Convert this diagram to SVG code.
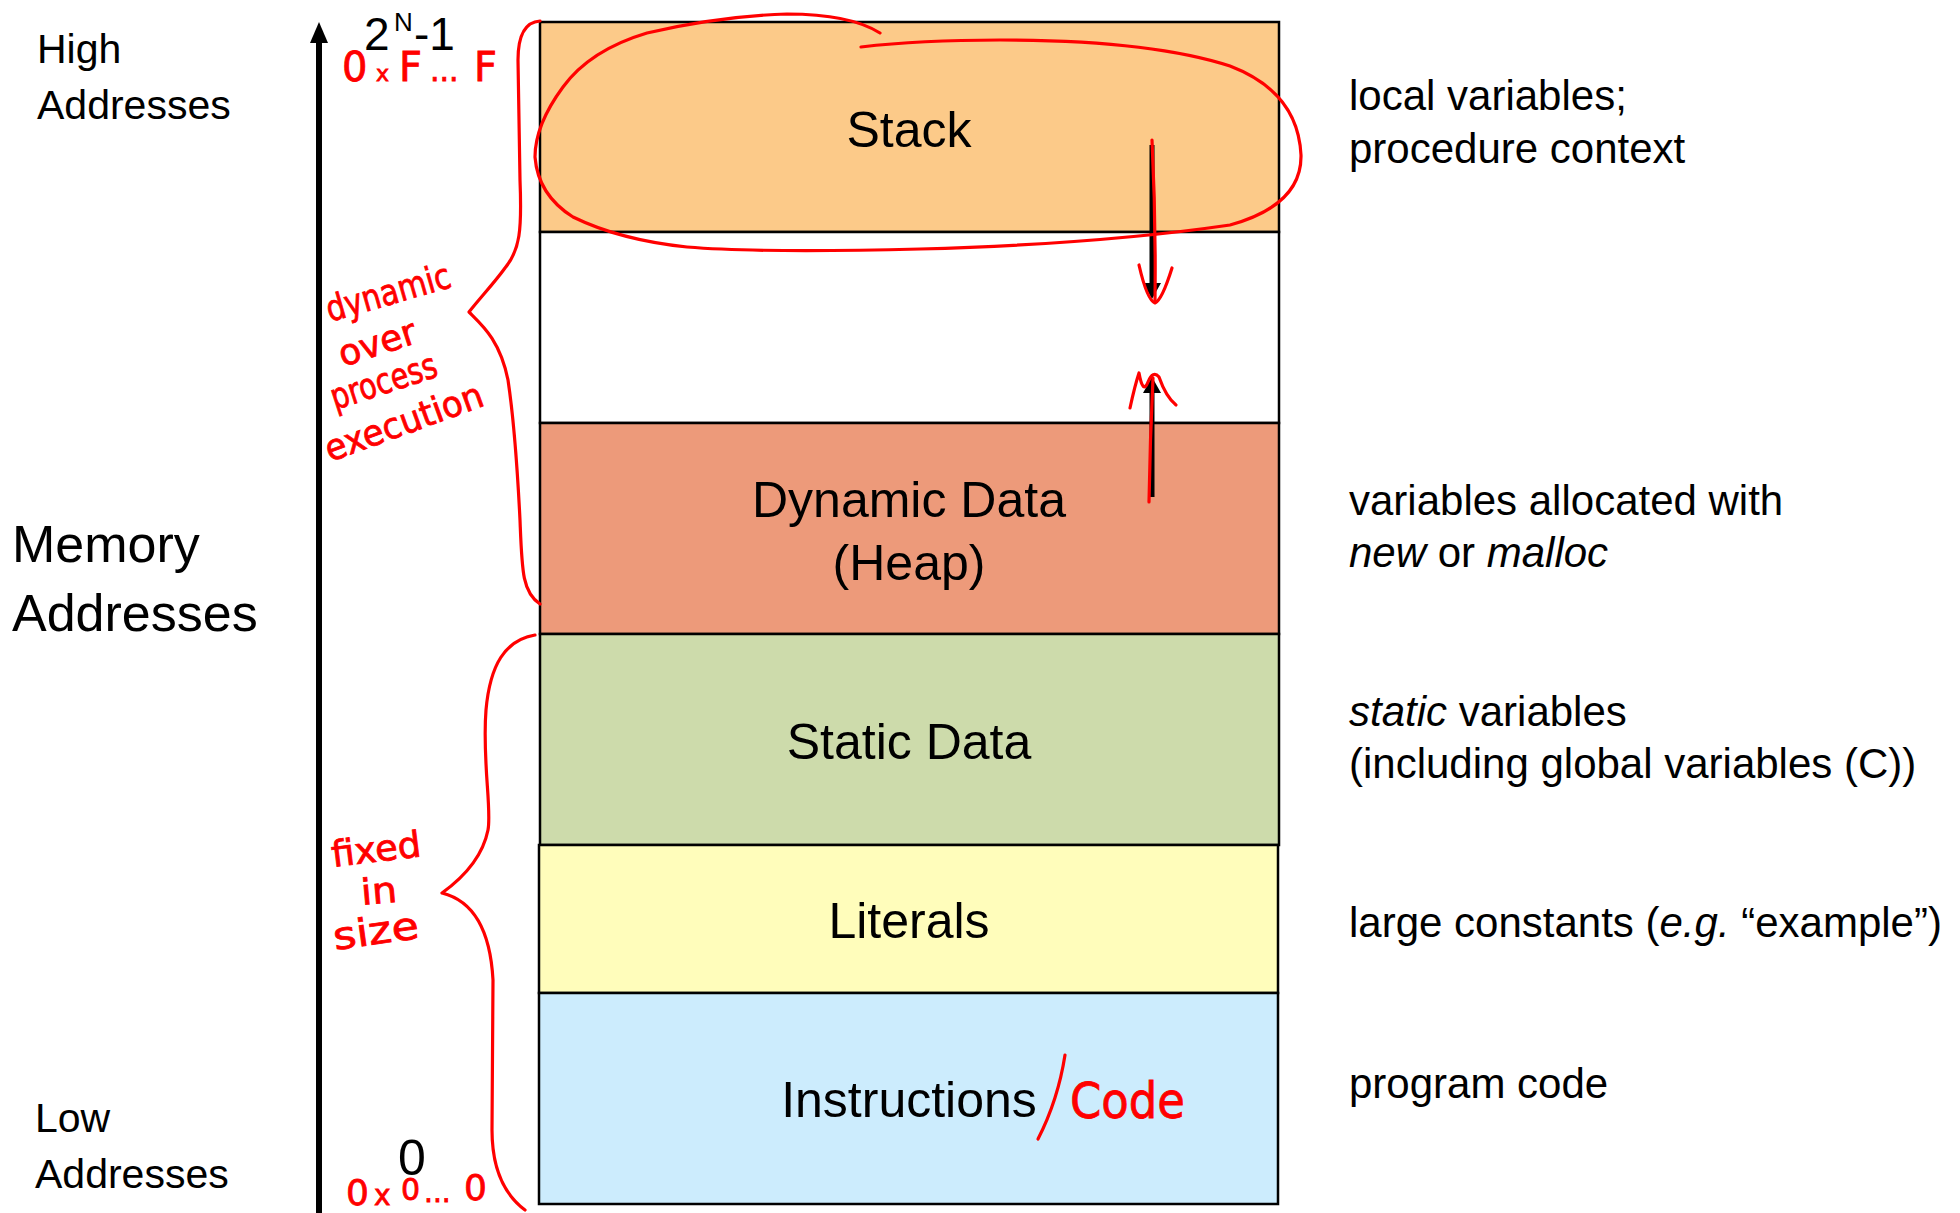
<svg xmlns="http://www.w3.org/2000/svg" width="1960" height="1213" viewBox="0 0 1960 1213">
<style>
.box{stroke:#000;stroke-width:2.5}
.lbl{font-family:"Liberation Sans",Arial,sans-serif;font-size:50px;fill:#000;text-anchor:middle}
.side{font-family:"Liberation Sans",Arial,sans-serif;font-size:41px;fill:#000}
.desc{font-family:"Liberation Sans",Arial,sans-serif;font-size:42px;fill:#000}
.num{font-family:"Liberation Sans",Arial,sans-serif;fill:#000}
.hand{font-family:"DejaVu Sans","Liberation Sans",sans-serif;fill:#f00;stroke:#f00;stroke-width:0.8}
.ink{fill:none;stroke:#f00;stroke-width:3.2;stroke-linecap:round;stroke-linejoin:round}
.it{font-style:italic}
</style>
<rect width="1960" height="1213" fill="#fff"/>

<g id="axis">
<line x1="319" y1="40" x2="319" y2="1213" stroke="#000" stroke-width="6"/>
<path d="M319,22 L328,43 L310,43 z" fill="#000"/>
</g>

<g id="side-labels">
<text class="side" x="37" y="63">High</text>
<text class="side" x="37" y="119">Addresses</text>
<text class="side" x="12" y="562" style="font-size:52px">Memory</text>
<text class="side" x="12" y="631" style="font-size:52px">Addresses</text>
<text class="side" x="35" y="1132">Low</text>
<text class="side" x="35" y="1188">Addresses</text>
<text class="num" x="364" y="50" font-size="46">2</text>
<text class="num" x="394" y="31" font-size="26">N</text>
<text class="num" x="414" y="50" font-size="46">-1</text>
<text class="num" x="398" y="1175" font-size="50">0</text>
</g>

<g id="stack">
<rect class="box" x="540" y="22" width="739" height="210" fill="#FCCA89"/>
<text class="lbl" x="909" y="147">Stack</text>
</g>
<g id="free">
<rect class="box" x="540" y="232" width="739" height="191" fill="#fff"/>
</g>
<g id="heap">
<rect class="box" x="540" y="423" width="739" height="211" fill="#ED9A7A"/>
<text class="lbl" x="909" y="517">Dynamic Data</text>
<text class="lbl" x="909" y="580">(Heap)</text>
</g>
<g id="static">
<rect class="box" x="540" y="634" width="739" height="211" fill="#CDDBAB"/>
<text class="lbl" x="909" y="759">Static Data</text>
</g>
<g id="literals">
<rect class="box" x="539" y="845" width="739" height="148" fill="#FFFDBB"/>
<text class="lbl" x="909" y="938">Literals</text>
</g>
<g id="instructions">
<rect class="box" x="539" y="993" width="739" height="211" fill="#CCECFD"/>
<text class="lbl" x="909" y="1117">Instructions</text>
</g>

<g id="connectors">
<line x1="1152" y1="145" x2="1152" y2="284" stroke="#000" stroke-width="5"/>
<path d="M1143,283 L1161,283 L1152,299 z" fill="#000"/>
<line x1="1152" y1="392" x2="1152" y2="497" stroke="#000" stroke-width="5"/>
<path d="M1143,393 L1161,393 L1152,377 z" fill="#000"/>
</g>

<g id="descriptions">
<text class="desc" x="1349" y="110">local variables;</text>
<text class="desc" x="1349" y="163">procedure context</text>
<text class="desc" x="1349" y="515">variables allocated with</text>
<text class="desc" x="1349" y="567" xml:space="preserve"><tspan class="it">new</tspan> or <tspan class="it">malloc</tspan></text>
<text class="desc" x="1349" y="726"><tspan class="it">static</tspan> variables</text>
<text class="desc" x="1349" y="778">(including global variables (C))</text>
<text class="desc" x="1349" y="937">large constants (<tspan class="it">e.g.</tspan> “example”)</text>
<text class="desc" x="1349" y="1098">program code</text>
</g>

<g id="annotations">
<path class="ink" d="M880,33 Q850,14 787,14 Q720,16 647,33 Q590,50 563,87 Q535,125 535,157 Q538,195 573,217 Q620,240 687,247 Q760,253 920,249 Q1100,244 1230,225 Q1302,205 1301,155 Q1298,92 1230,66 Q1150,40 1000,40 Q920,40 861,47"/>
<path class="ink" d="M540,21 C525,22 518,35 518,60 L520,180 C522,230 520,250 505,268 C495,282 480,298 469,312 C482,325 500,340 508,380 C514,420 518,480 520,520 C522,570 522,592 540,604"/>
<path class="ink" d="M535,635 C505,640 490,665 486,710 C482,760 492,810 488,830 C482,860 460,880 442,893 C470,900 490,925 493,980 L492,1130 C492,1170 505,1195 525,1210"/>
<path class="ink" d="M1152,140 Q1156,220 1155,300"/>
<path class="ink" d="M1139,265 Q1147,300 1155,303 Q1162,300 1172,268"/>
<path class="ink" d="M1149,502 Q1150,440 1153,378"/>
<path class="ink" d="M1130,408 Q1135,385 1139,373 Q1143,395 1148,382 Q1153,370 1159,377 Q1166,397 1176,405"/>
<path class="ink" d="M1065,1055 Q1058,1100 1038,1139"/>
<text class="hand" x="1070" y="1118" font-size="50" textLength="115" lengthAdjust="spacingAndGlyphs">Code</text>
<text class="hand" font-size="40"><tspan x="342" y="81">0</tspan><tspan x="376" y="81" font-size="22">x</tspan><tspan x="399" y="81">F</tspan><tspan x="430" y="81" font-size="30">...</tspan><tspan x="474" y="81">F</tspan></text>
<text class="hand" font-size="36"><tspan x="346" y="1205">0</tspan><tspan x="374" y="1205" font-size="28">x</tspan><tspan x="401" y="1200" font-size="30">0</tspan><tspan x="424" y="1202" font-size="28">...</tspan><tspan x="464" y="1200">0</tspan></text>
<text class="hand" font-size="36" transform="translate(330,322) rotate(-16)" textLength="128" lengthAdjust="spacingAndGlyphs">dynamic</text>
<text class="hand" font-size="36" transform="translate(343,367) rotate(-18)" textLength="80" lengthAdjust="spacingAndGlyphs">over</text>
<text class="hand" font-size="36" transform="translate(335,410) rotate(-18)" textLength="110" lengthAdjust="spacingAndGlyphs">process</text>
<text class="hand" font-size="36" transform="translate(330,462) rotate(-20)" textLength="166" lengthAdjust="spacingAndGlyphs">execution</text>
<text class="hand" font-size="36" transform="translate(333,867) rotate(-7)" textLength="90" lengthAdjust="spacingAndGlyphs">fixed</text>
<text class="hand" font-size="36" transform="translate(362,905) rotate(-5)" textLength="36" lengthAdjust="spacingAndGlyphs">in</text>
<text class="hand" font-size="38" transform="translate(335,950) rotate(-8)" textLength="86" lengthAdjust="spacingAndGlyphs">size</text>
</g>
</svg>
